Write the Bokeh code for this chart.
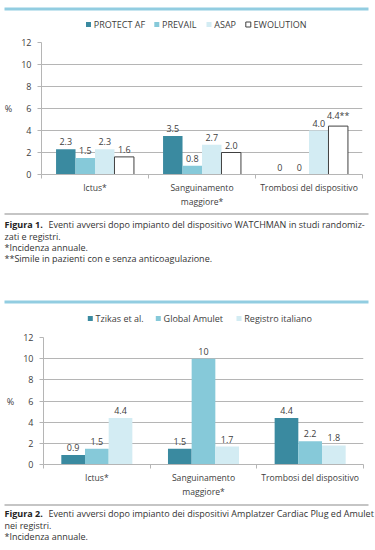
from bokeh.plotting import figure
from bokeh.models import Range1d, FixedTicker
from bokeh.layouts import column
from bokeh.embed import file_html
from bokeh.resources import INLINE
from bokeh.core.properties import value

# ---------------- data ----------------
categories = ["Ictus*", "Sanguinamento\nmaggiore*", "Trombosi del dispositivo"]
y_ticks = [0, 2, 4, 6, 8, 10, 12]

series1 = ["PROTECT AF", "PREVAIL", "ASAP", "EWOLUTION"]
protect_af = [2.3, 3.5, 0.0]
prevail = [1.5, 0.8, 0.0]
asap = [2.3, 2.7, 4.0]
ewolution = [1.6, 2.0, 4.4]
protect_af_labels = ["2.3", "3.5", "0"]
prevail_labels = ["1.5", "0.8", "0"]
asap_labels = ["2.3", "2.7", "4.0"]
ewolution_labels = ["1.6", "2.0", "4.4**"]

series2 = ["Tzikas et al.", "Global Amulet", "Registro italiano"]
tzikas = [0.9, 1.5, 4.4]
global_amulet = [1.5, 10.0, 2.2]
registro_italiano = [4.4, 1.7, 1.8]
tzikas_labels = ["0.9", "1.5", "4.4"]
global_amulet_labels = ["1.5", "10", "2.2"]
registro_italiano_labels = ["4.4", "1.7", "1.8"]

caption1_title = "Figura 1."
caption1 = ["Eventi avversi dopo impianto del dispositivo WATCHMAN in studi randomiz-",
            "zati e registri.",
            "*Incidenza annuale.",
            "**Simile in pazienti con e senza anticoagulazione."]
caption2_title = "Figura 2."
caption2 = ["Eventi avversi dopo impianto dei dispositivi Amplatzer Cardiac Plug ed Amulet",
            "nei registri.",
            "*Incidenza annuale."]

# ---------------- style ----------------
FONT = "Open Sans"
TXT = "#404040"
GRID = "#b5b5b5"
DARK = "#3a8aa0"
MID = "#86c9d9"
LIGHT = "#d3ecf3"
BAND = "#92cde1"
SEP = "#8c8c8c"
W = 375


def blank(height):
    p = figure(width=W, height=height, output_backend="svg", toolbar_location=None,
               x_range=Range1d(0, W), y_range=Range1d(height, 0),
               x_axis_type=None, y_axis_type=None, min_border=0, frame_align=False)
    p.min_border_left = 0
    p.min_border_right = 0
    p.min_border_top = 0
    p.min_border_bottom = 0
    p.outline_line_color = None
    p.grid.visible = False
    return p


def header(height, band_y, series, fills, lines, legend_x, legend_y):
    p = blank(height)
    p.quad(left=4, right=368, top=band_y, bottom=band_y + 3, fill_color=BAND, line_color=None)
    for name, fc, lc, lx in zip(series, fills, lines, legend_x):
        p.rect(x=lx + 2.5, y=legend_y, width=5, height=5, fill_color=fc,
               line_color=lc if lc else None, line_width=1)
    p.text(x=[lx + 7.8 for lx in legend_x], y=[legend_y] * len(series), text=series,
           text_font=value(FONT), text_font_size="9px", text_color=TXT,
           text_baseline="middle", text_align="left")
    return p


def caption(height, sep_y, title, lines, cap_y, step):
    p = blank(height)
    p.quad(left=4, right=368, top=sep_y, bottom=sep_y + 1, fill_color=SEP, line_color=None)
    p.text(x=[4], y=[cap_y], text=[title], text_font=value(FONT), text_font_size="9px",
           text_font_style="bold", text_color="#222222", text_baseline="middle")
    p.text(x=[48] + [4] * (len(lines) - 1), y=[cap_y + step * j for j in range(len(lines))],
           text=lines, text_font=value(FONT), text_font_size="9px",
           text_color="#333333", text_baseline="middle")
    return p


def chart(series, values, labels, fills, lines, bar_w, height, borders):
    left, right, top, bottom = borders
    p = figure(width=W, height=height, output_backend="svg", toolbar_location=None,
               x_range=Range1d(0, 3), y_range=Range1d(0, 12),
               min_border_left=left, min_border_right=right,
               min_border_top=top, min_border_bottom=bottom, frame_align=False)
    p.outline_line_color = None
    n = len(series)
    for i, (vals, labs, fc, lc) in enumerate(zip(values, labels, fills, lines)):
        off = (i - (n - 1) / 2) * bar_w
        xs = [k + 0.5 + off for k in range(len(categories))]
        p.vbar(x=xs, top=vals, bottom=0, width=bar_w, fill_color=fc,
               line_color=lc, line_width=1 if lc else 0)
        p.text(x=xs, y=vals, text=labs, text_align="center", text_baseline="bottom",
               y_offset=-4, text_font=value(FONT), text_font_size="9px", text_color=TXT)
    p.xaxis.ticker = FixedTicker(ticks=[k + 0.5 for k in range(len(categories))],
                                 minor_ticks=list(range(len(categories) + 1)))
    p.xaxis.major_label_overrides = {k + 0.5: c for k, c in enumerate(categories)}
    p.xaxis.major_tick_line_color = None
    p.xaxis.major_tick_out = 0
    p.xaxis.major_tick_in = 0
    p.xaxis.minor_tick_line_color = GRID
    p.xaxis.minor_tick_out = 4
    p.xaxis.minor_tick_in = 0
    p.xaxis.axis_line_color = GRID
    p.xaxis.major_label_standoff = 3
    p.xaxis.major_label_text_font = FONT
    p.xaxis.major_label_text_font_size = "8.6px"
    p.xaxis.major_label_text_color = TXT
    p.yaxis.ticker = FixedTicker(ticks=y_ticks)
    p.yaxis.major_tick_out = 4
    p.yaxis.major_tick_in = 0
    p.yaxis.major_tick_line_color = GRID
    p.yaxis.minor_tick_line_color = None
    p.yaxis.axis_line_color = GRID
    p.yaxis.major_label_standoff = 6
    p.yaxis.major_label_text_font = FONT
    p.yaxis.major_label_text_font_size = "9px"
    p.yaxis.major_label_text_color = TXT
    p.yaxis.axis_label = "%"
    p.yaxis.axis_label_orientation = "horizontal"
    p.yaxis.axis_label_standoff = 6
    p.yaxis.axis_label_text_font = FONT
    p.yaxis.axis_label_text_font_size = "9px"
    p.yaxis.axis_label_text_font_style = "normal"
    p.yaxis.axis_label_text_color = TXT
    p.xgrid.visible = False
    p.ygrid.grid_line_color = GRID
    return p


fills1 = [DARK, MID, LIGHT, "white"]
lines1 = [None, None, None, "#404040"]
fills2 = [DARK, MID, LIGHT]
lines2 = [None, None, None]

h1 = header(34, 7, series1, fills1, lines1, [85.5, 153.8, 206.0, 245.3], 24)
c1 = chart(series1, [protect_af, prevail, asap, ewolution],
           [protect_af_labels, prevail_labels, asap_labels, ewolution_labels],
           fills1, lines1, 0.182, 176, (41, 13, 8, 36))
k1 = caption(80, 3, caption1_title, caption1, 14.3, 11.3)
h2 = header(39, 10, series2, fills2, lines2, [87.3, 155.3, 236.0], 28)
c2 = chart(series2, [tzikas, global_amulet, registro_italiano],
           [tzikas_labels, global_amulet_labels, registro_italiano_labels],
           fills2, lines2, 0.222, 171, (43, 12, 8, 33))
k2 = caption(50, 4, caption2_title, caption2, 13.3, 11.2)

layout = column(h1, c1, k1, h2, c2, k2, spacing=0)
open("out.html", "w").write(file_html(layout, INLINE))
